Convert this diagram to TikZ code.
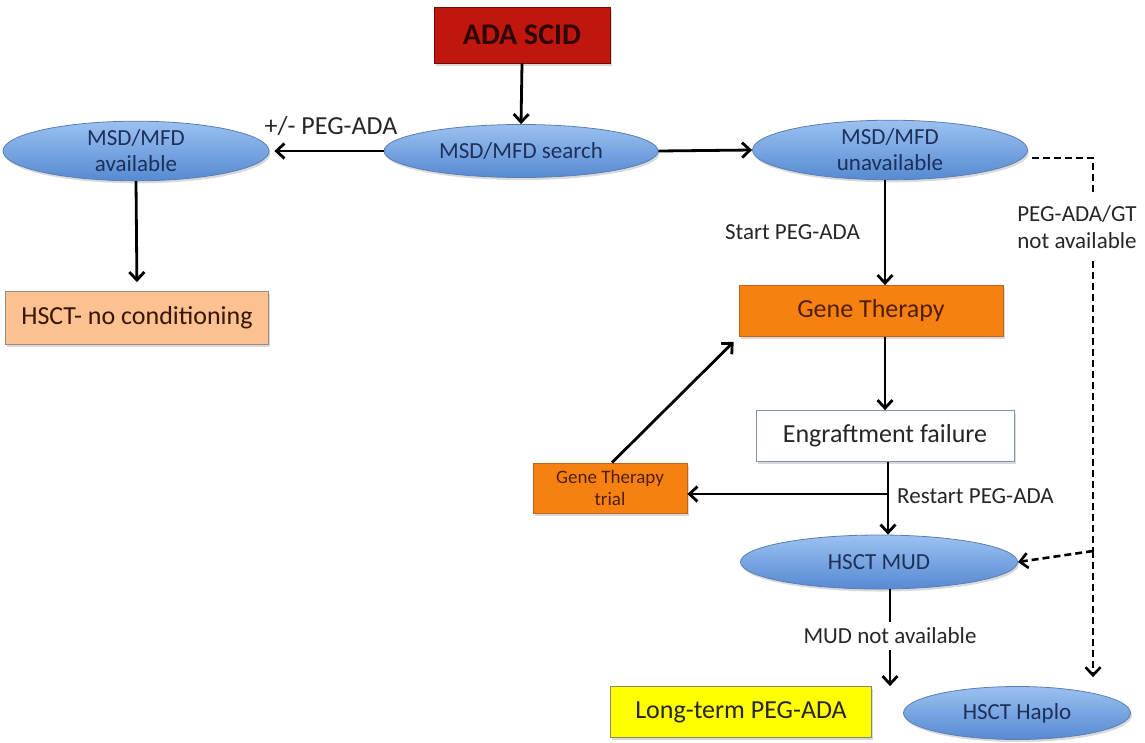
\documentclass[tikz,border=0pt]{standalone}
\usepackage{fontspec}
\setmainfont{Carlito}
\usetikzlibrary{arrows.meta,shapes.geometric,shadows}
\definecolor{adared}{RGB}{192,22,14}
\definecolor{adaline}{RGB}{110,10,10}
\definecolor{adatext}{RGB}{45,6,6}
\definecolor{gtorange}{RGB}{247,129,16}
\definecolor{gtline}{RGB}{190,100,30}
\definecolor{gttext}{RGB}{80,30,5}
\definecolor{peach}{RGB}{251,193,144}
\definecolor{peachline}{RGB}{150,140,130}
\definecolor{yell}{RGB}{255,255,0}
\definecolor{yellline}{RGB}{140,140,100}
\definecolor{efline}{RGB}{125,148,185}
\definecolor{ellTop}{RGB}{155,193,240}
\definecolor{ellMid}{RGB}{105,158,224}
\definecolor{ellBot}{RGB}{86,138,210}
\definecolor{ellLine}{RGB}{90,125,180}
\definecolor{navy}{RGB}{28,48,92}
\definecolor{darktxt}{RGB}{38,38,38}
\newcommand{\szhuge}{\fontsize{30}{34}\selectfont}
\newcommand{\szbig}{\fontsize{26}{30}\selectfont}
\newcommand{\szmid}{\fontsize{23}{27}\selectfont}
\newcommand{\szsmall}{\fontsize{19}{22}\selectfont}
\begin{document}
\begin{tikzpicture}[x=1pt,y=-1pt,
  shad/.style={drop shadow={opacity=0.3,shadow xshift=1.5pt,shadow yshift=-2.5pt}},
  boxnode/.style={rectangle, draw, line width=0.8pt, inner sep=0pt, shad, font=\szbig, align=center},
  ellnode/.style={ellipse, draw=ellLine, line width=0.8pt, inner sep=0pt, top color=ellTop, middle color=ellMid, bottom color=ellBot, shad, text=navy, font=\szmid, align=center},
  lbl/.style={font=\szmid, text=darktxt, inner sep=0pt, align=center},
  arr/.style={line width=2.8pt, -{Straight Barb[length=8pt,width=15pt]}},
  dsh/.style={line width=2.6pt, dash pattern=on 7pt off 4pt},
  dsharr/.style={dsh, -{Straight Barb[length=8pt,width=15pt]}}
]
\useasboundingbox (0,0) rectangle (1145,742);

% nodes
\node[boxnode, fill=adared, draw=adaline, text=adatext, minimum width=176pt, minimum height=56pt, font=\szhuge\bfseries] (ada) at (522,35) {ADA SCID};
\node[ellnode, minimum width=274pt, minimum height=53pt] (search) at (521,151) {MSD/MFD search};
\node[ellnode, minimum width=266pt, minimum height=55pt] (avail) at (136,151) {MSD/MFD\\[-1pt]available};
\node[ellnode, minimum width=275pt, minimum height=57pt] (unavail) at (890,150) {MSD/MFD\\[-1pt]unavailable};
\node[boxnode, fill=peach, draw=peachline, text=gttext!70!black, minimum width=263pt, minimum height=53pt] (hsct0) at (137,318) {HSCT- no conditioning};
\node[boxnode, fill=gtorange, draw=gtline, text=gttext, minimum width=264pt, minimum height=51pt] (gt) at (871,311) {Gene Therapy};
\node[boxnode, fill=white, draw=efline, text=darktxt, minimum width=258pt, minimum height=51pt] (ef) at (885,436) {Engraftment failure};
\node[boxnode, fill=gtorange, draw=gtline, text=gttext, minimum width=154pt, minimum height=50pt, font=\szsmall] (trial) at (610,488) {Gene Therapy\\trial};
\node[ellnode, minimum width=277pt, minimum height=54pt] (mud) at (879,562) {HSCT MUD};
\node[boxnode, fill=yell, draw=yellline, text=darktxt, minimum width=261pt, minimum height=51pt] (lt) at (741,712) {Long-term PEG-ADA};
\node[ellnode, minimum width=227pt, minimum height=53pt] (haplo) at (1017,713) {HSCT Haplo};

% labels
\node[lbl, font=\szbig] (pm) at (331,126) {+/- PEG-ADA};
\node[lbl, anchor=east] (start) at (860,232) {Start PEG-ADA};
\node[lbl, anchor=west] (restart) at (897,496) {Restart PEG-ADA};
\node[lbl, inner sep=6pt] (mudna) at (890,636) {MUD not available};
\node[lbl, inner ysep=12pt, inner xsep=2pt] (gtna) at (1077,227) {PEG-ADA/GT\\not available};

% connectors
\draw[arr] (ada.south) -- (search.north);
\draw[arr, shorten >=5pt] (search.west) -- (avail.east);
\draw[arr] (search.east) -- (unavail.west);
\draw[arr, shorten >=9pt] (avail.south) -- (hsct0.north);
\draw[arr] (unavail.south -| ef.north) -- (gt.north -| ef.north);
\draw[arr] (gt.south -| ef.north) -- (ef.north);
\draw[arr] ([xshift=3pt]ef.south) -- ([xshift=3pt]ef.south |- mud.north);
\coordinate (br) at ([xshift=3pt]ef.south |- 0,494);
\draw[arr] (br) -- (br -| trial.east);
\draw[arr, shorten >=7pt] ([xshift=2pt]trial.north) -- (gt.south west);
\draw[line width=2.8pt] (mud.south -| mudna.north) -- (mudna.north);
\draw[arr] (mudna.south) -- (mudna.south |- lt.north);

% dashed branch
\coordinate (dtop) at ([yshift=-8pt]unavail.east);
\coordinate (dx) at (1093,0);
\draw[dsh] ([xshift=4pt]dtop) -- (dtop -| dx) -- (gtna.north -| dx);
\coordinate (junc) at (dx |- 0,551);
\draw[dsh] (gtna.south -| dx) -- (junc);
\draw[dsharr, shorten >=9pt] (junc) -- (haplo.north -| dx);
\draw[dsharr] (junc) -- (mud.east);
\end{tikzpicture}
\end{document}
